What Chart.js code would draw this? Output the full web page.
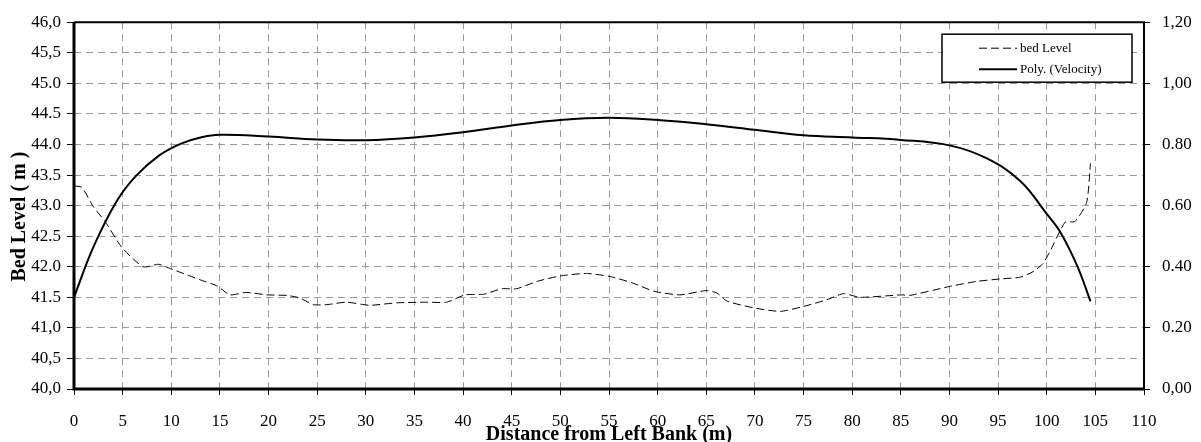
<!DOCTYPE html>
<html>
<head>
<meta charset="utf-8">
<title>Bed Level / Velocity</title>
<script src="https://cdn.jsdelivr.net/npm/chart.js@4.4.1/dist/chart.umd.min.js"></script>
<style>
  html, body { margin: 0; padding: 0; background: #fff; }
  #wrap { position: relative; width: 1201px; height: 442px; }
</style>
</head>
<body>
<div id="wrap"><canvas id="profileChart"></canvas></div>
<script>
/* ── Data ──────────────────────────────────────────────────── */
const bedX = [0, 0.8, 2.0, 3.2, 4.9, 7.1, 8.7, 9.9, 12.9, 14.8, 16.0, 17.7, 19.8, 21.9, 23.2,
  24.6, 26.0, 28.0, 30.4, 33.2, 36.3, 38.3, 40.2, 42.1, 44.0, 45.5, 47.6, 50.0, 52.7, 55.1,
  57.5, 59.6, 62.3, 65.0, 66.1, 67.1, 69.8, 72.6, 75.0, 77.4, 79.1, 80.8, 85.1, 85.9, 90.1,
  92.8, 95.2, 97.3, 98.6, 99.6, 100.3, 101.9, 102.9, 104.1, 104.5];
const bedLevel = [43.32, 43.30, 42.98, 42.74, 42.32, 42.00, 42.04, 41.97, 41.79, 41.68, 41.54, 41.58, 41.54, 41.53, 41.49,
  41.38, 41.38, 41.42, 41.37, 41.41, 41.42, 41.42, 41.54, 41.55, 41.64, 41.64, 41.76, 41.85, 41.89, 41.84,
  41.73, 41.60, 41.54, 41.61, 41.57, 41.44, 41.33, 41.27, 41.35, 41.46, 41.56, 41.50, 41.54, 41.53, 41.68,
  41.76, 41.80, 41.83, 41.92, 42.05, 42.24, 42.73, 42.74, 43.05, 43.69];

const velX = [0, 2, 4.4, 6.4, 8.8, 11, 13, 15, 20, 25, 30, 35, 40, 45, 50, 55, 60, 65, 70, 75,
  80, 85, 90, 93.8, 97.3, 99.9, 101.4, 103.1, 104.5];
const velocity = [0.30, 0.465, 0.615, 0.698, 0.765, 0.803, 0.823, 0.832, 0.826, 0.816, 0.814, 0.823, 0.840, 0.862, 0.880, 0.887, 0.880, 0.866, 0.848, 0.830,
  0.823, 0.815, 0.797, 0.755, 0.680, 0.577, 0.513, 0.405, 0.287];

const xTickLabels     = ['0','5','10','15','20','25','30','35','40','45','50','55','60','65','70','75','80','85','90','95','100','105','110'];
const leftTickLabels  = ['40,0','40,5','41,0','41.5','42.0','42.5','43.0','43.5','44.0','44.5','45.0','45,5','46,0'];
const rightTickLabels = ['0,00','0.20','0.40','0.60','0.80','1,00','1,20'];

const seriesNames = ['bed Level', 'Poly. (Velocity)'];
const xTitle = 'Distance from Left Bank (m)';
const yTitle = 'Bed Level ( m )';

const SERIF = "'Liberation Serif', 'Times New Roman', serif";

/* ── Frame, y title and boxed legend ───────────────────────── */
const framePlugin = {
  id: 'frame',
  afterDraw(chart) {
    const { ctx, chartArea: a } = chart;
    ctx.save();
    ctx.strokeStyle = '#000';
    ctx.setLineDash([]);
    ctx.lineWidth = 2;
    ctx.beginPath();
    ctx.moveTo(a.left, a.top); ctx.lineTo(a.right, a.top); ctx.lineTo(a.right, a.bottom);
    ctx.stroke();
    ctx.lineWidth = 3;
    ctx.beginPath();
    ctx.moveTo(a.left, a.top); ctx.lineTo(a.left, a.bottom); ctx.lineTo(a.right, a.bottom);
    ctx.stroke();

    /* y axis title, overlapping the tick labels like the original */
    ctx.translate(a.left - 54, (a.top + a.bottom) / 2 + 11);
    ctx.rotate(-Math.PI / 2);
    ctx.font = 'bold 20px ' + SERIF;
    ctx.fillStyle = '#000';
    ctx.textAlign = 'center';
    ctx.textBaseline = 'middle';
    ctx.fillText(yTitle, 0, 0);
    ctx.restore();

    /* legend box */
    const bx = a.right - 202, by = a.top + 12, bw = 190, bh = 48;
    ctx.save();
    ctx.fillStyle = '#fff';
    ctx.fillRect(bx, by, bw, bh);
    ctx.strokeStyle = '#000';
    ctx.lineWidth = 1.5;
    ctx.strokeRect(bx, by, bw, bh);
    chart.data.datasets.forEach((ds, i) => {
      const ly = by + 14 + i * 21;
      ctx.strokeStyle = ds.borderColor;
      ctx.lineWidth = ds.borderWidth;
      ctx.setLineDash(ds.borderDash || []);
      ctx.beginPath();
      ctx.moveTo(bx + 37, ly); ctx.lineTo(bx + 75, ly);
      ctx.stroke();
      ctx.setLineDash([]);
      ctx.fillStyle = '#000';
      ctx.font = '13px ' + SERIF;
      ctx.textAlign = 'left';
      ctx.textBaseline = 'middle';
      ctx.fillText(ds.label, bx + 78, ly);
    });
    ctx.restore();
  }
};

const gridDash = [7, 5];

new Chart(document.getElementById('profileChart'), {
  type: 'line',
  data: {
    datasets: [
      {
        label: seriesNames[0],
        data: bedX.map((x, i) => ({ x, y: bedLevel[i] })),
        yAxisID: 'y',
        borderColor: '#000',
        borderWidth: 1,
        borderDash: [8, 4],
        pointRadius: 0,
        tension: 0.2,
        fill: false,
      },
      {
        label: seriesNames[1],
        data: velX.map((x, i) => ({ x, y: velocity[i] })),
        yAxisID: 'y2',
        borderColor: '#000',
        borderWidth: 2,
        pointRadius: 0,
        tension: 0.4,
        fill: false,
      }
    ]
  },
  options: {
    responsive: true,
    maintainAspectRatio: false,
    animation: false,
    layout: { padding: { top: 17, left: 0, right: 0, bottom: 0 } },
    plugins: { legend: { display: false }, tooltip: { enabled: false } },
    scales: {
      x: {
        type: 'linear',
        min: 0, max: 110,
        afterFit: s => { s.height = 53; },
        afterBuildTicks: s => { s.ticks = xTickLabels.map(t => ({ value: Number(t) })); },
        ticks: {
          color: '#000',
          font: { family: SERIF, size: 17 },
          padding: 16,
          maxRotation: 0,
          autoSkip: false,
          callback: (v, i) => xTickLabels[i],
        },
        grid: {
          color: '#9a9a9a',
          tickBorderDash: [],
          tickColor: '#000',
          tickLength: 6,
          tickWidth: 1,
        },
        border: { display: false, dash: gridDash },
        title: {
          display: true,
          text: xTitle,
          color: '#000',
          font: { family: SERIF, size: 20, weight: 'bold', lineHeight: 1 },
          padding: { top: 0, bottom: -3 },
        },
      },
      y: {
        position: 'left',
        min: 40, max: 46,
        afterFit: s => { s.width = 74; },
        afterBuildTicks: s => { s.ticks = leftTickLabels.map((t, i) => ({ value: 40 + i * 0.5 })); },
        ticks: {
          color: '#000',
          font: { family: SERIF, size: 17 },
          padding: 6,
          autoSkip: false,
          callback: (v, i) => leftTickLabels[i],
        },
        grid: {
          color: '#9a9a9a',
          tickBorderDash: [],
          tickColor: '#000',
          tickLength: 7,
        },
        border: { display: false, dash: gridDash },
      },
      y2: {
        position: 'right',
        min: 0, max: 1.2,
        afterFit: s => { s.width = 57; },
        afterBuildTicks: s => { s.ticks = rightTickLabels.map((t, i) => ({ value: i * 0.2 })); },
        ticks: {
          color: '#000',
          font: { family: SERIF, size: 17 },
          padding: 12,
          autoSkip: false,
          callback: (v, i) => rightTickLabels[i],
        },
        grid: {
          drawOnChartArea: false,
          tickColor: '#000',
          tickLength: 6,
        },
        border: { display: false },
      }
    }
  },
  plugins: [framePlugin]
});
</script>
</body>
</html>
